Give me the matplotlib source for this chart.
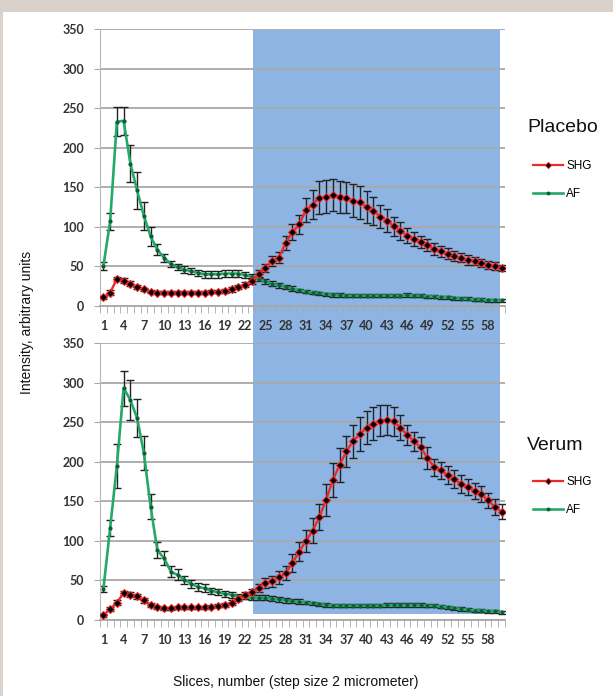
import numpy as np
import matplotlib
matplotlib.use("Agg")
import matplotlib.pyplot as plt
from matplotlib.patches import Rectangle
from matplotlib.lines import Line2D
from matplotlib import transforms

# Данні
slices = np.arange(1, 61)
tick_slices = list(range(1, 59, 3))

placebo_shg = [11, 17, 34, 32, 28, 24, 21, 18, 17, 17,
               17, 17, 17, 17, 17, 17, 18, 18, 19, 21,
               24, 27, 32, 40, 48, 57, 61, 80, 93, 103,
               121, 128, 137, 138, 140, 138, 137, 133, 131, 125,
               120, 113, 108, 101, 95, 89, 85, 81, 77, 72,
               69, 66, 63, 61, 58, 57, 54, 52, 50, 48]
placebo_shg_err = [2, 3, 3, 3, 3, 3, 2, 2, 2, 2,
                   2, 2, 2, 2, 2, 2, 2, 2, 2, 3,
                   3, 3, 4, 5, 5, 6, 7, 9, 10, 12,
                   15, 18, 21, 21, 20, 20, 20, 21, 21, 20,
                   18, 15, 14, 12, 11, 9, 9, 8, 8, 7,
                   7, 7, 6, 6, 6, 5, 5, 5, 5, 4]
placebo_af = [50, 107, 233, 234, 180, 146, 114, 88, 71, 61,
              53, 49, 46, 44, 42, 40, 40, 40, 41, 41,
              41, 39, 37, 34, 31, 28, 26, 24, 22, 20,
              18, 17, 16, 15, 14, 14, 13, 13, 13, 13,
              13, 13, 13, 13, 13, 14, 13, 13, 12, 12,
              11, 11, 10, 9, 9, 8, 8, 7, 7, 7]
placebo_af_err = [5, 11, 18, 18, 23, 23, 18, 12, 7, 5,
                  4, 4, 4, 4, 4, 4, 4, 4, 4, 4,
                  4, 4, 3, 3, 3, 3, 3, 3, 3, 2,
                  2, 2, 2, 2, 2, 2, 2, 2, 2, 2,
                  2, 2, 2, 2, 2, 2, 2, 2, 2, 2,
                  2, 2, 2, 2, 2, 2, 2, 2, 2, 2]

verum_shg = [6, 14, 22, 34, 32, 30, 25, 19, 16, 15,
             15, 16, 16, 16, 16, 16, 17, 18, 19, 22,
             27, 31, 35, 40, 47, 49, 54, 59, 72, 86,
             100, 113, 130, 152, 177, 196, 213, 226, 235, 243,
             248, 252, 253, 251, 243, 234, 226, 218, 205, 193,
             189, 183, 178, 172, 168, 163, 159, 151, 143, 137]
verum_shg_err = [2, 3, 3, 3, 3, 3, 3, 2, 2, 2,
                 2, 2, 2, 2, 2, 2, 2, 2, 3, 3,
                 3, 4, 4, 5, 6, 7, 8, 9, 11, 12,
                 14, 16, 16, 20, 21, 21, 20, 21, 21, 21,
                 21, 20, 19, 18, 16, 13, 12, 13, 14, 11,
                 11, 11, 11, 11, 10, 10, 10, 10, 10, 10]
verum_af = [39, 116, 195, 293, 278, 255, 211, 143, 88, 78,
            61, 57, 51, 46, 42, 40, 37, 35, 33, 32,
            30, 29, 28, 28, 28, 27, 26, 25, 24, 23,
            22, 21, 20, 19, 18, 18, 18, 18, 18, 18,
            18, 18, 19, 19, 19, 19, 19, 19, 18, 18,
            17, 16, 15, 14, 13, 12, 12, 11, 11, 10]
verum_af_err = [4, 10, 28, 22, 25, 24, 21, 16, 10, 9,
                7, 7, 5, 5, 5, 5, 4, 4, 4, 4,
                3, 3, 3, 3, 3, 3, 3, 3, 3, 3,
                2, 2, 2, 2, 2, 2, 2, 2, 2, 2,
                2, 2, 2, 2, 2, 2, 2, 2, 2, 2,
                2, 2, 2, 2, 2, 2, 2, 2, 2, 2]

RED = '#f02828'
GREEN = '#22aa66'
GRID = '#a8a8a8'
SHADE = '#8db4e2'
W, H = 613, 696

fig = plt.figure(figsize=(W / 100, H / 100), dpi=100, facecolor='#d9d1ca')
# біла панель
fig.add_artist(Rectangle((3 / W, 0), 1, 1 - 12 / H, transform=fig.transFigure,
                         facecolor='white', edgecolor='none', zorder=-3))

ax1 = fig.add_axes([100 / W, 1 - 306 / H, 405 / W, 277 / H])
ax2 = fig.add_axes([100 / W, 1 - 620 / H, 405 / W, 277 / H])


def draw_panel(ax, shg, shg_err, af, af_err, title, title_y, leg_top):
    ax.set_facecolor('none')
    ax.errorbar(slices, af, yerr=af_err, fmt='none', ecolor='#222222',
                elinewidth=1, capsize=3, capthick=1, zorder=2)
    ax.errorbar(slices, shg, yerr=shg_err, fmt='none', ecolor='#222222',
                elinewidth=1, capsize=3, capthick=1, zorder=2)
    ax.plot(slices, af, color=GREEN, lw=1.9, marker='o', ms=2,
            mfc='#0d5e35', mec='#0d5e35', zorder=3)
    ax.plot(slices, shg, color=RED, lw=1.7, marker='D', ms=3.6,
            mfc='black', mec=RED, mew=0.8, zorder=4)

    ax.set_xlim(0.5, 60.5)
    ax.set_ylim(0, 350)
    ax.set_yticks(range(0, 351, 50))
    ax.set_xticks(tick_slices)
    ax.set_xticks(np.arange(0.5, 61, 1), minor=True)
    ax.grid(axis='y', color=GRID, lw=1.3, zorder=1)
    ax.set_axisbelow(True)
    for s in ('top', 'right'):
        ax.spines[s].set_visible(False)
    ax.spines['left'].set_color('#b8b8b8')
    ax.spines['bottom'].set_color(GRID)
    ax.spines['bottom'].set_linewidth(1.3)
    ax.tick_params(axis='x', which='major', length=0, pad=10)
    ax.tick_params(axis='x', which='minor', length=5, color=GRID)
    ax.tick_params(axis='y', length=4, color=GRID, pad=7.5)
    for lab in ax.get_xticklabels() + ax.get_yticklabels():
        lab.set_fontfamily('Lato')
        lab.set_fontweight('bold')
        lab.set_fontsize(9)
        lab.set_color('#333333')

    fig.text(527 / W, 1 - title_y / H, title, ha='left', va='center',
             fontsize=14, family='Liberation Sans', color='#111111')
    handles = [Line2D([], [], color=RED, lw=1.6, marker='D', ms=3.2,
                      mfc='black', mec=RED, mew=0.6),
               Line2D([], [], color=GREEN, lw=1.9, marker='o', ms=1.8,
                      mfc='#0d5e35', mec='#0d5e35')]
    ax.legend(handles, ['SHG', 'AF'], loc='upper left',
              bbox_to_anchor=(533 / W, 1 - leg_top / H),
              bbox_transform=fig.transFigure, frameon=False,
              prop={'family': 'Liberation Sans', 'size': 8.5},
              handlelength=2.5, labelspacing=1.38,
              handletextpad=0.3, borderpad=0, borderaxespad=0)


draw_panel(ax1, placebo_shg, placebo_shg_err, placebo_af, placebo_af_err,
           'Placebo', 128, 160)
draw_panel(ax2, verum_shg, verum_shg_err, verum_af, verum_af_err,
           'Verum', 445, 476)

# блакитна область
blend = transforms.blended_transform_factory(ax2.transData, fig.transFigure)
fig.add_artist(Rectangle((23.13, 1 - 614 / H), 59.77 - 23.13, (614 - 30) / H,
                         transform=blend, facecolor=SHADE, edgecolor='none',
                         zorder=-1))

fig.text(27 / W, 1 - 322 / H, 'Intensity, arbitrary units', rotation=90,
         ha='center', va='center', fontsize=10, family='Liberation Sans',
         color='#111111')
fig.text(296 / W, 1 - 682 / H, 'Slices, number (step size 2 micrometer)',
         ha='center', va='center', fontsize=10, family='Liberation Sans',
         color='#111111')

fig.savefig('out.png', dpi=100, facecolor=fig.get_facecolor())
